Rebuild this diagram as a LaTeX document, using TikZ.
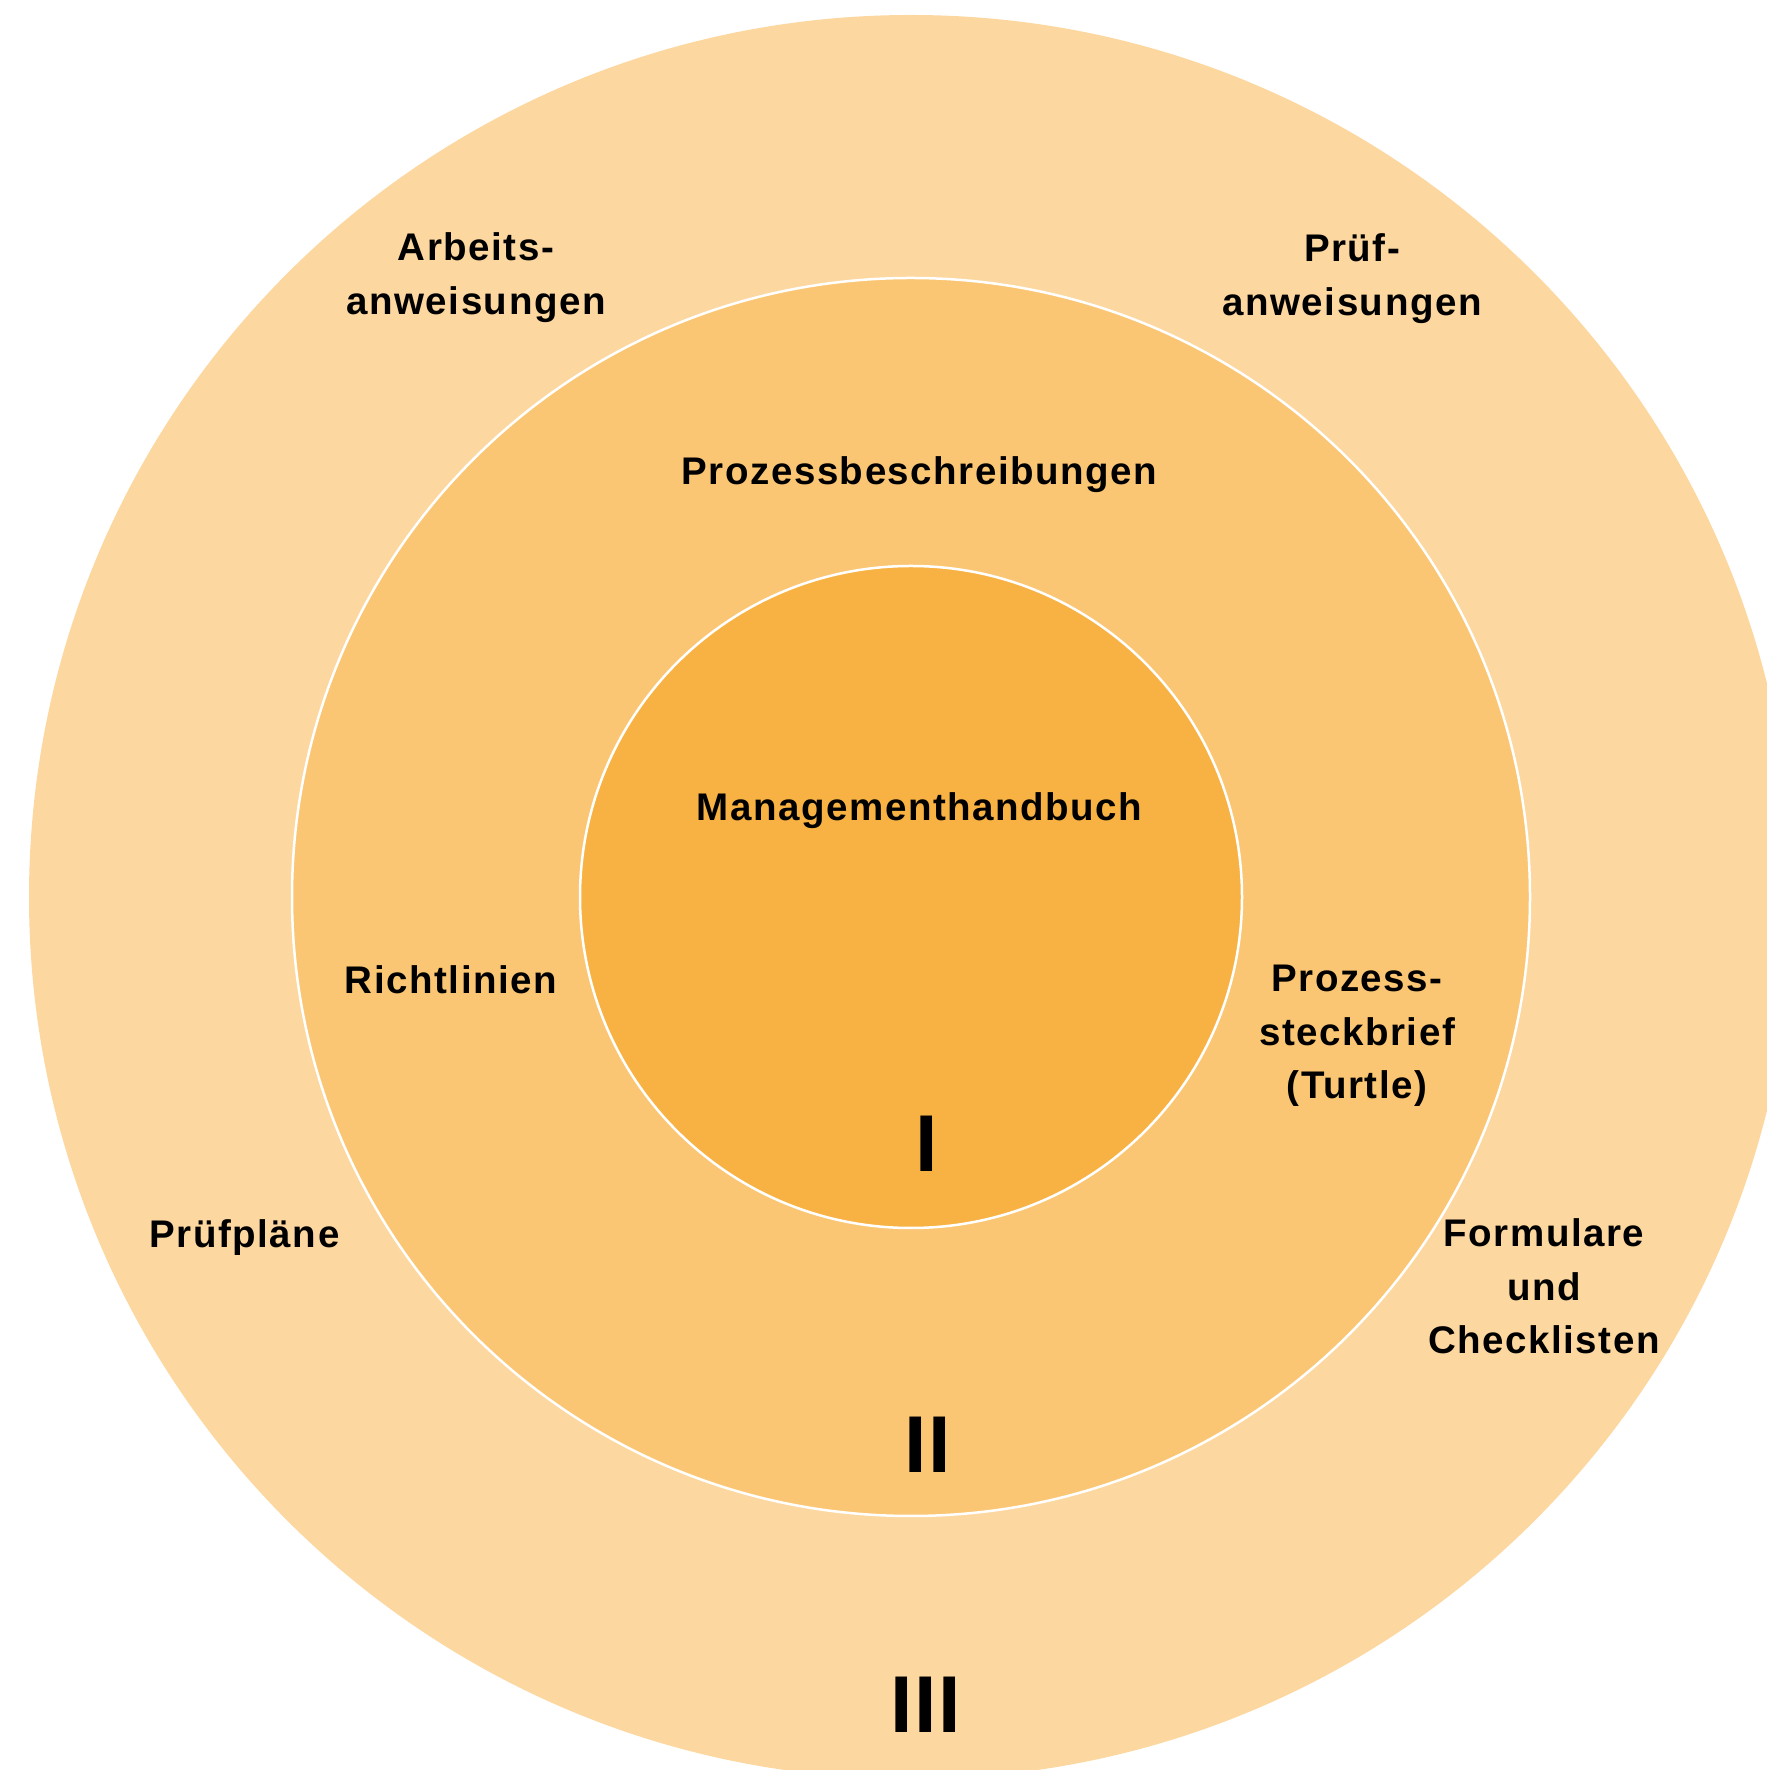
\documentclass[tikz,border=0pt]{standalone}
\usepackage{fontspec}
\newfontfamily\lblfont[LetterSpace=4]{Liberation Sans}
\newfontfamily\numfont[LetterSpace=2]{Liberation Sans}
\definecolor{cinner}{HTML}{F8B243}
\definecolor{cmiddle}{HTML}{FBC673}
\definecolor{couter}{HTML}{FCD79F}
\begin{document}
\begin{tikzpicture}[x=1pt,y=1pt,
  ring/.style={circle, draw=white, line width=2.5pt, inner sep=0pt, outer sep=0pt},
  lab/.style={font=\lblfont\bfseries\fontsize{38.5}{53.5}\selectfont, align=center, anchor=base, inner sep=0pt},
  num/.style={font=\numfont\bfseries\fontsize{80.6}{80.6}\selectfont, anchor=base, inner sep=0pt}]
\useasboundingbox (0,0) rectangle (1767,1770);
\clip (0,0) rectangle (1767,1770);
\coordinate (c) at (911,873);
\node[circle, fill=couter, minimum size=1764pt, inner sep=0pt] (outer) at (c) {};
\node[ring, fill=cmiddle, minimum size=1238pt] (middle) at (c) {};
\node[ring, fill=cinner, minimum size=662pt] (inner) at (c) {};
% multi-line nodes: base anchor = baseline of last line
\node[lab] (arbeit) at (476,1455.5) {Arbeits-\\anweisungen};
\node[lab] (pruefanw) at (1352,1454.5) {Prüf-\\anweisungen};
\node[lab] (prozbes) at (919.5,1285) {Prozessbeschreibungen};
\node[lab] (mhb) at (919.5,949) {Managementhandbuch};
\node[lab] (richt) at (451,776) {Richtlinien};
\node[lab] (steck) at (1357,671) {Prozess-\\steckbrief\\(Turtle)};
\node[lab] (formul) at (1544,416) {Formulare\\und\\Checklisten};
\node[lab] (pplan) at (244.5,522) {Prüfpläne};
\node[num] (n1) at (927,598) {I};
\node[num] (n2) at (927.5,297) {II};
\node[num] (n3) at (925.6,37) {III};
\end{tikzpicture}
\end{document}
